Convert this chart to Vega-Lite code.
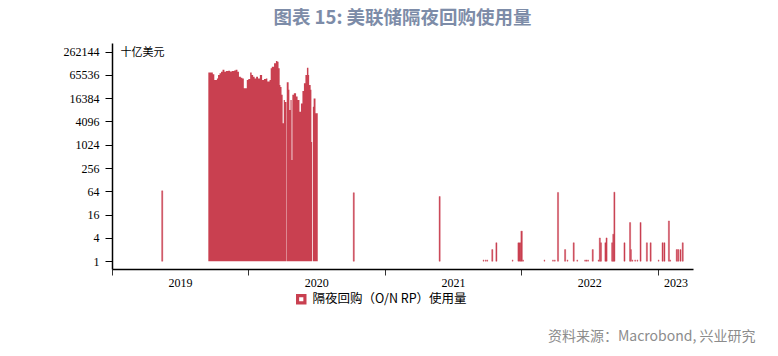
{
  "$schema": "https://vega.github.io/schema/vega-lite/v6.json",
  "width": 581,
  "height": 226,
  "autosize": "none",
  "padding": {"left": 112, "top": 43, "right": 85, "bottom": 87},
  "background": "white",
  "title": {
    "text": "图表 15: 美联储隔夜回购使用量",
    "font": "Noto Sans CJK SC",
    "fontSize": 18.5,
    "fontWeight": "bold",
    "color": "#7d8ca8",
    "anchor": "middle",
    "frame": "group",
    "offset": 16
  },
  "datasets": {
    "block": [
      {"d": "2019-09-16", "v": 76000},
      {"d": "2019-09-28", "v": 68000},
      {"d": "2019-10-02", "v": 48000},
      {"d": "2019-10-09", "v": 53000},
      {"d": "2019-10-12", "v": 65000},
      {"d": "2019-10-16", "v": 72000},
      {"d": "2019-10-20", "v": 79000},
      {"d": "2019-10-24", "v": 89000},
      {"d": "2019-10-29", "v": 79000},
      {"d": "2019-11-02", "v": 82000},
      {"d": "2019-11-08", "v": 84000},
      {"d": "2019-11-13", "v": 80000},
      {"d": "2019-11-18", "v": 83000},
      {"d": "2019-11-24", "v": 85000},
      {"d": "2019-11-28", "v": 89000},
      {"d": "2019-12-03", "v": 79000},
      {"d": "2019-12-07", "v": 59000},
      {"d": "2019-12-12", "v": 55000},
      {"d": "2019-12-16", "v": 53000},
      {"d": "2019-12-20", "v": 29500},
      {"d": "2019-12-28", "v": 48000},
      {"d": "2020-01-01", "v": 51000},
      {"d": "2020-01-06", "v": 76000},
      {"d": "2020-01-10", "v": 65000},
      {"d": "2020-01-14", "v": 59000},
      {"d": "2020-01-18", "v": 53000},
      {"d": "2020-01-22", "v": 59000},
      {"d": "2020-01-27", "v": 53000},
      {"d": "2020-02-01", "v": 65000},
      {"d": "2020-02-07", "v": 48000},
      {"d": "2020-02-12", "v": 51000},
      {"d": "2020-02-17", "v": 53000},
      {"d": "2020-02-21", "v": 44000},
      {"d": "2020-02-27", "v": 48000},
      {"d": "2020-03-01", "v": 97000},
      {"d": "2020-03-04", "v": 106000},
      {"d": "2020-03-10", "v": 131000},
      {"d": "2020-03-15", "v": 149000},
      {"d": "2020-03-19", "v": 143000},
      {"d": "2020-03-22", "v": 97000},
      {"d": "2020-03-25", "v": 36000},
      {"d": "2020-03-27", "v": 32000},
      {"d": "2020-03-30", "v": 20000},
      {"d": "2020-04-02", "v": 3700},
      {"d": "2020-04-05", "v": 14700},
      {"d": "2020-04-08", "v": 13000},
      {"d": "2020-04-12", "v": 1},
      {"d": "2020-04-13", "v": 42000},
      {"d": "2020-04-18", "v": 27000},
      {"d": "2020-04-20", "v": 8100},
      {"d": "2020-04-23", "v": 14700},
      {"d": "2020-04-26", "v": 415},
      {"d": "2020-04-28", "v": 20000},
      {"d": "2020-05-02", "v": 22000},
      {"d": "2020-05-08", "v": 18000},
      {"d": "2020-05-12", "v": 14700},
      {"d": "2020-05-17", "v": 7300},
      {"d": "2020-05-21", "v": 12000},
      {"d": "2020-05-25", "v": 25000},
      {"d": "2020-05-29", "v": 40000},
      {"d": "2020-06-02", "v": 65000},
      {"d": "2020-06-06", "v": 100000},
      {"d": "2020-06-10", "v": 65000},
      {"d": "2020-06-12", "v": 36000},
      {"d": "2020-06-16", "v": 27000},
      {"d": "2020-06-18", "v": 1200},
      {"d": "2020-06-20", "v": 1},
      {"d": "2020-06-22", "v": 9900},
      {"d": "2020-06-24", "v": 16000},
      {"d": "2020-06-29", "v": 6700},
      {"d": "2020-07-05", "v": 6700}
    ],
    "spikes": [
      {"d": "2019-05-14", "e": "2019-05-17", "v": 66},
      {"d": "2020-10-08", "e": "2020-10-11", "v": 59},
      {"d": "2021-05-26", "e": "2021-05-29", "v": 47},
      {"d": "2021-09-21", "e": "2021-09-23", "v": 1.08},
      {"d": "2021-09-27", "e": "2021-09-29", "v": 1.08},
      {"d": "2021-10-01", "e": "2021-10-03", "v": 1.08},
      {"d": "2021-10-14", "e": "2021-10-17", "v": 2},
      {"d": "2021-10-25", "e": "2021-10-28", "v": 3},
      {"d": "2021-12-08", "e": "2021-12-10", "v": 1.08},
      {"d": "2021-12-23", "e": "2021-12-31", "v": 3},
      {"d": "2021-12-31", "e": "2022-01-04", "v": 6},
      {"d": "2022-01-05", "e": "2022-01-07", "v": 1.08},
      {"d": "2022-03-03", "e": "2022-03-05", "v": 1.08},
      {"d": "2022-03-26", "e": "2022-03-28", "v": 1.08},
      {"d": "2022-03-31", "e": "2022-04-02", "v": 1.08},
      {"d": "2022-04-08", "e": "2022-04-11", "v": 60},
      {"d": "2022-04-27", "e": "2022-04-30", "v": 2},
      {"d": "2022-05-04", "e": "2022-05-06", "v": 1.08},
      {"d": "2022-05-20", "e": "2022-05-23", "v": 3},
      {"d": "2022-05-30", "e": "2022-06-01", "v": 1.08},
      {"d": "2022-06-20", "e": "2022-06-22", "v": 1.08},
      {"d": "2022-06-24", "e": "2022-06-26", "v": 1.08},
      {"d": "2022-06-28", "e": "2022-06-30", "v": 1.08},
      {"d": "2022-07-10", "e": "2022-07-13", "v": 2},
      {"d": "2022-07-26", "e": "2022-07-28", "v": 1.08},
      {"d": "2022-07-29", "e": "2022-08-01", "v": 4},
      {"d": "2022-08-01", "e": "2022-08-04", "v": 3},
      {"d": "2022-08-13", "e": "2022-08-16", "v": 3},
      {"d": "2022-08-16", "e": "2022-08-19", "v": 4},
      {"d": "2022-08-31", "e": "2022-09-03", "v": 3},
      {"d": "2022-09-03", "e": "2022-09-06", "v": 5},
      {"d": "2022-09-06", "e": "2022-09-09", "v": 61},
      {"d": "2022-10-03", "e": "2022-10-06", "v": 3},
      {"d": "2022-10-18", "e": "2022-10-21", "v": 10},
      {"d": "2022-10-21", "e": "2022-10-23", "v": 2},
      {"d": "2022-10-25", "e": "2022-10-27", "v": 1.08},
      {"d": "2022-11-01", "e": "2022-11-03", "v": 1.08},
      {"d": "2022-11-07", "e": "2022-11-09", "v": 1.08},
      {"d": "2022-11-15", "e": "2022-11-18", "v": 10},
      {"d": "2022-12-02", "e": "2022-12-05", "v": 3},
      {"d": "2022-12-12", "e": "2022-12-15", "v": 3},
      {"d": "2023-01-03", "e": "2023-01-05", "v": 1.08},
      {"d": "2023-01-13", "e": "2023-01-16", "v": 3},
      {"d": "2023-01-18", "e": "2023-01-21", "v": 3},
      {"d": "2023-01-30", "e": "2023-02-02", "v": 11},
      {"d": "2023-02-03", "e": "2023-02-05", "v": 1.08},
      {"d": "2023-02-20", "e": "2023-02-23", "v": 2},
      {"d": "2023-02-24", "e": "2023-02-27", "v": 2},
      {"d": "2023-03-02", "e": "2023-03-05", "v": 2},
      {"d": "2023-03-08", "e": "2023-03-11", "v": 3}
    ]
  },
  "encoding": {
    "x": {
      "field": "d",
      "type": "temporal",
      "scale": {"domain": [{"year": 2019, "month": 1, "date": 1}, {"year": 2023, "month": 4, "date": 6}]},
      "axis": {
        "values": [
          {"year": 2019, "month": 1, "date": 1},
          {"year": 2020, "month": 1, "date": 1},
          {"year": 2021, "month": 1, "date": 1},
          {"year": 2022, "month": 1, "date": 1},
          {"year": 2023, "month": 1, "date": 1}
        ],
        "format": "%Y",
        "labelFont": "Liberation Serif",
        "labelFontSize": 12,
        "labelColor": "black",
        "labelOffset": {"condition": {"test": "datum.value > 1672000000000", "value": 18}, "value": 68},
        "labelFlush": false,
        "labelOverlap": false,
        "labelPadding": 2,
        "tickColor": "#333333",
        "tickSize": 6,
        "domainColor": "black",
        "domainWidth": 1.5,
        "grid": false,
        "title": "资料来源：Macrobond, 兴业研究",
        "titleFont": "Noto Sans CJK SC",
        "titleFontSize": 14,
        "titleFontWeight": "normal",
        "titleColor": "#8c8c8c",
        "titleX": 643,
        "titleY": 67,
        "titleAlign": "right",
        "titleBaseline": "middle"
      }
    },
    "y": {
      "field": "v",
      "type": "quantitative",
      "scale": {"type": "log", "base": 2, "domain": [0.63, 437000], "nice": false, "zero": false},
      "axis": {
        "values": [1, 4, 16, 64, 256, 1024, 4096, 16384, 65536, 262144],
        "format": "d",
        "labelFont": "Liberation Serif",
        "labelFontSize": 12,
        "labelColor": "black",
        "labelPadding": 6,
        "tickColor": "black",
        "tickSize": 7,
        "domainColor": "black",
        "domainWidth": 1.5,
        "grid": false,
        "title": "十亿美元",
        "titleAngle": 0,
        "titleX": 8,
        "titleY": 9,
        "titleAlign": "left",
        "titleBaseline": "middle",
        "titleFont": "Noto Sans CJK SC",
        "titleFontSize": 11,
        "titleFontWeight": "normal",
        "titleColor": "black"
      }
    },
    "y2": {"datum": 1},
    "color": {
      "datum": "隔夜回购（O/N RP）使用量",
      "type": "nominal",
      "scale": {"range": ["#c94050"]},
      "legend": {
        "title": null,
        "orient": "none",
        "legendX": 183,
        "legendY": 250,
        "padding": 0,
        "symbolType": "M-1,-1H1V1H-1Z M-0.4,-0.4V0.4H0.4V-0.4Z",
        "symbolSize": 110,
        "symbolStrokeWidth": 0,
        "labelFont": "Noto Sans CJK SC",
        "labelFontSize": 12.5,
        "labelColor": "black",
        "labelOffset": 5,
        "labelLimit": 400
      }
    }
  },
  "layer": [
    {
      "data": {"name": "block"},
      "mark": {"type": "area", "interpolate": "step-after", "opacity": 1, "line": false}
    },
    {
      "data": {"name": "spikes"},
      "mark": {"type": "bar", "stroke": "#c94050", "strokeWidth": 0.4},
      "encoding": {"x2": {"field": "e"}}
    }
  ],
  "config": {"view": {"stroke": null}}
}
